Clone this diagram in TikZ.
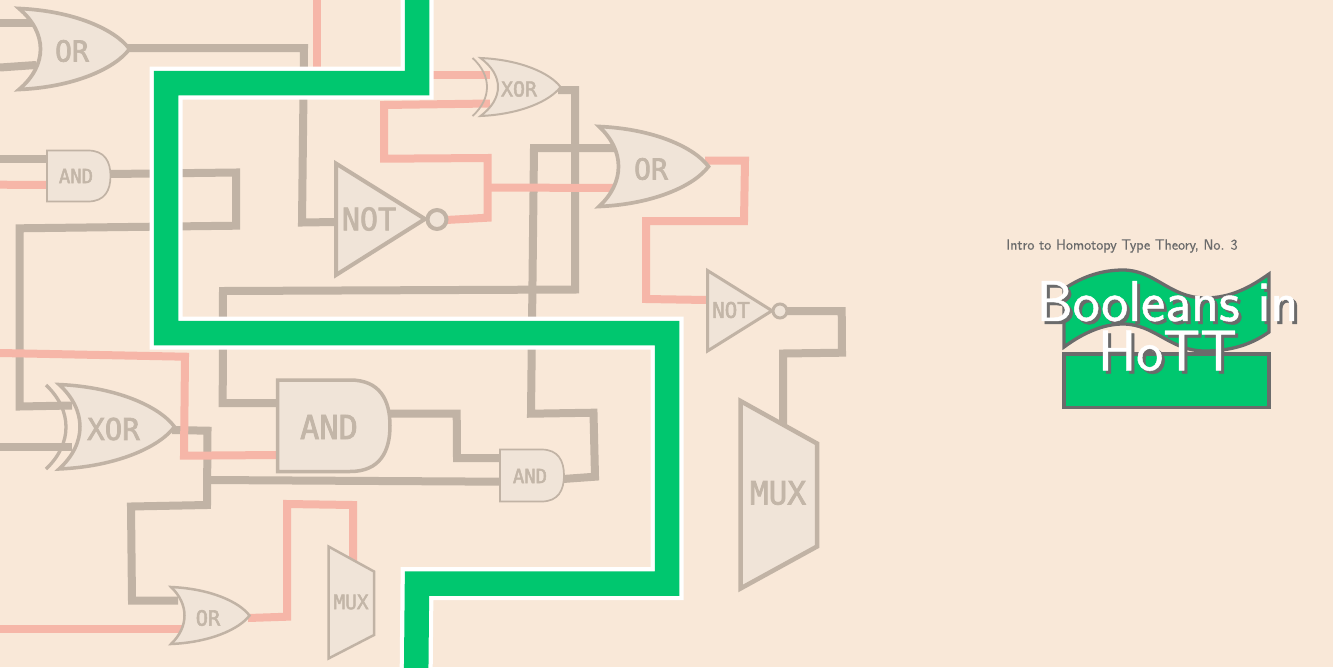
\documentclass[tikz,border=0pt]{standalone}
\usepackage{fontspec}
\newfontfamily\gatefont[FakeBold=2.5]{DejaVu Sans Mono}
\newfontfamily\titlefont[FakeBold=0.8]{Latin Modern Sans}
\newfontfamily\subfont[FakeBold=0.3]{Latin Modern Sans}
\definecolor{bgc}{HTML}{F9E8D8}
\definecolor{wiregray}{HTML}{C1B3A5}
\definecolor{wirepink}{HTML}{F6B6A8}
\definecolor{gatefill}{HTML}{F0E4D8}
\definecolor{gatetext}{HTML}{C3B6A8}
\definecolor{hottgreen}{HTML}{00C76F}
\definecolor{logogray}{HTML}{6B6B6B}
\tikzset{
  graywire/.style={draw=wiregray,line width=8pt},
  pinkwire/.style={draw=wirepink,line width=8pt},
  gatebody/.style={draw=wiregray,fill=gatefill},
  gatelabel/.style={text=gatetext,inner sep=0pt,font=\gatefont},
  logotitle/.style={inner sep=0pt,font=\titlefont\fontsize{57.5}{57.5}\selectfont,align=center},
}
\newcommand{\orbody}[6]{%
  \pgfmathsetmacro{\gw}{#4-#1}\pgfmathsetmacro{\gh}{#3-#2}\pgfmathsetmacro{\gm}{(#2+#3)/2}%
  \pgfmathsetmacro{\gb}{#1+(#5-#1)/0.75}%
  \draw[gatebody,line width=#6pt]
    (#1,#2) .. controls ({#1+.5*\gw},{#2+.03*\gh}) and ({#1+.87*\gw},{#2+.26*\gh}) .. (#4,\gm)
    .. controls ({#1+.87*\gw},{#3-.26*\gh}) and ({#1+.5*\gw},{#3-.03*\gh}) .. (#1,#3)
    .. controls (\gb,{#3-.3*\gh}) and (\gb,{#2+.3*\gh}) .. cycle;}
\newcommand{\xorarc}[5]{%
  \pgfmathsetmacro{\gh}{#3-#2}\pgfmathsetmacro{\gb}{#1+(#4-#1)/0.75}%
  \draw[draw=wiregray,line width=#5pt]
    (#1,#2) .. controls (\gb,{#2+.3*\gh}) and (\gb,{#3-.3*\gh}) .. (#1,#3);}
\newcommand{\andbody}[6]{%
  \pgfmathsetmacro{\gh}{#3-#2}\pgfmathsetmacro{\gm}{(#2+#3)/2}%
  \draw[gatebody,line width=#6pt]
    (#1,#2) -- (#4,#2) .. controls ({#4+.75*(#5-#4)},#2) and (#5,{#2+.22*\gh}) .. (#5,\gm)
    .. controls (#5,{#3-.22*\gh}) and ({#4+.75*(#5-#4)},#3) .. (#4,#3) -- (#1,#3) -- cycle;}
\newcommand{\glabel}[5]{\node[gatelabel,font=\gatefont\fontsize{#4}{#4}\selectfont] (#1) at (#2,#3) {\scalebox{.97}[1]{#5}};}
\begin{document}
\begin{tikzpicture}[x=1pt,y=-1pt]
\useasboundingbox (0,0) rectangle (1333,667);
\fill[bgc] (0,0) rectangle (1333,667);
% pins
\coordinate (orAin1) at (36,23);\coordinate (orAin2) at (36,65);\coordinate (orAout) at (128,48);
\coordinate (andAin1) at (47,159);\coordinate (andAin2) at (47,185);\coordinate (andAout) at (110,174);
\coordinate (notAin) at (336,222);\coordinate (notAout) at (446,220);
\coordinate (xorAin1) at (490,75);\coordinate (xorAin2) at (490,103.5);\coordinate (xorAout) at (558,90);
\coordinate (orBin1) at (614,148);\coordinate (orBin2) at (614,188);\coordinate (orBout) at (705,160.5);
\coordinate (notBin) at (707,300);\coordinate (notBout) at (786,311);
\coordinate (muxBin) at (783,425);
\coordinate (xorBin1) at (72,405.5);\coordinate (xorBin2) at (72,447);\coordinate (xorBout) at (172,430);
\coordinate (andBin1) at (278,403);\coordinate (andBin2) at (278,455);\coordinate (andBout) at (388,413.7);
\coordinate (andCin1) at (501,458);\coordinate (andCin2) at (501,481.7);\coordinate (andCout) at (563,479);
\coordinate (orCin1) at (178,600.7);\coordinate (orCin2) at (182,629);\coordinate (orCout) at (248,618);
\coordinate (muxAin) at (353,562);
\coordinate (edgeA) at (0,23);\coordinate (edgeB) at (0,67.5);\coordinate (edgeC) at (0,159);\coordinate (edgeD) at (0,184.7);
\coordinate (edgeE) at (0,447);\coordinate (edgeF) at (0,353);\coordinate (edgeG) at (0,629);\coordinate (edgeH) at (316.5,0);
% gray wires
\draw[graywire] (edgeA) -- (orAin1);
\draw[graywire] (edgeB) -- (orAin2);
\draw[graywire] (edgeC) -- (andAin1);
\draw[graywire] (edgeE) -- (xorBin2);
\draw[graywire] (orAout) -- (304,48) -- (302,222.5) -- (notAin);
\draw[graywire] (andAout) -- (236,172.5) -- (236,225.7) -- (19.5,228.3) -- (19.5,406.5) -- (xorBin1);
\draw[graywire] (xorAout) -- (575,90) -- (575,289.5) -- (223,291) -- (222.7,403) -- (andBin1);
\draw[graywire] (orBin1) -- (534,148) -- (531,413.7) -- (593.5,412.7) -- (595,476.7) -- (andCout);
\draw[graywire] (notBout) -- (841.7,311) -- (842,352.7) -- (783,353.5) -- (muxBin);
\draw[graywire] (xorBout) -- (207.5,430.7) -- (207,505) -- (131,506.5) -- (132,600.7) -- (orCin1);
\draw[graywire] (207,480) -- (andCin2);
\draw[graywire] (andBout) -- (456.7,413.7) -- (457,458) -- (andCin1);
% pink wires
\draw[pinkwire] (edgeH) -- (316.5,75) -- (xorAin1);
\draw[pinkwire] (xorAin2) -- (384,105) -- (384,158.7) -- (487.5,158) -- (487.5,217.7) -- (notAout);
\draw[pinkwire] (487.5,187.5) -- (orBin2);
\draw[pinkwire] (orBout) -- (745,160.5) -- (744,221) -- (646,221) -- (646,299) -- (notBin);
\draw[pinkwire] (edgeD) -- (andAin2);
\draw[pinkwire] (edgeF) -- (185,356.7) -- (184,455.7) -- (andBin2);
\draw[pinkwire] (edgeG) -- (orCin2);
\draw[pinkwire] (orCout) -- (287,616.7) -- (287,504) -- (353,505) -- (muxAin);
% gates
\orbody{19}{8.5}{89.5}{129.5}{40.5}{3.7}
\glabel{orA}{72}{51}{29}{OR}
\andbody{47}{150.5}{201.5}{88}{110.5}{1.7}
\glabel{andA}{76}{176}{19.5}{AND}
\draw[gatebody,line width=4pt] (336,163.5) -- (425,219) -- (336,275) -- cycle;
\draw[gatebody,line width=4pt] (437,219.5) circle[radius=9.5];
\glabel{notA}{369}{219}{31}{NOT}
\xorarc{472.5}{58}{116}{487}{1.8}
\orbody{480.5}{58}{116}{560.5}{498}{2}
\glabel{xorA}{519}{89}{20.5}{XOR}
\orbody{599}{126.5}{206.5}{708.5}{618.5}{3.7}
\glabel{orB}{651}{169}{29}{OR}
\draw[gatebody,line width=3pt] (707.5,270.5) -- (772,310.7) -- (707.5,351) -- cycle;
\draw[gatebody,line width=3pt] (780,311) circle[radius=7];
\glabel{notB}{731}{310}{21.5}{NOT}
\draw[gatebody,line width=4.5pt] (740.5,401) -- (817,443.5) -- (817,546.5) -- (740.5,588.5) -- cycle;
\glabel{muxB}{778}{493}{32}{MUX}
\xorarc{46}{385}{469}{66}{3.3}
\orbody{59}{384.5}{469}{174.5}{80}{3.5}
\glabel{xorB}{113.5}{429}{30}{XOR}
\andbody{277.5}{380}{471.5}{350}{390}{3.5}
\glabel{andB}{329}{427}{33}{AND}
\andbody{500}{449.5}{501.5}{541.5}{564}{1.7}
\glabel{andC}{530}{476}{19.5}{AND}
\orbody{171}{587}{644}{249.5}{184.5}{2.5}
\glabel{orC}{208}{618}{21}{OR}
\draw[gatebody,line width=2.5pt] (328.5,546.5) -- (374,571.5) -- (374,635) -- (328.5,658.5) -- cycle;
\glabel{muxA}{351}{602}{20}{MUX}
% thick green line
\draw[white,line width=33pt] (417,-20) -- (417,83) -- (166,83) -- (166,333) -- (667,333) -- (667,583.5) -- (417,583.5) -- (416,690);
\draw[hottgreen,line width=24.5pt] (417,-20) -- (417,83) -- (166,83) -- (166,333) -- (667,333) -- (667,583.5) -- (417,583.5) -- (416,690);
% logo
\draw[fill=hottgreen,draw=logogray,line width=3.3pt]
 (1064,289) .. controls (1083,276) and (1103,270) .. (1123,270)
 .. controls (1155,270) and (1170,298) .. (1205,298)
 .. controls (1232,298) and (1252,286) .. (1269,274)
 -- (1269,332)
 .. controls (1252,344) and (1232,351) .. (1205,351)
 .. controls (1170,351) and (1155,324) .. (1123,324)
 .. controls (1103,324) and (1083,333) .. (1064,347) -- cycle;
\draw[fill=hottgreen,draw=logogray,line width=3.3pt] (1064,354) rectangle (1269,407.5);
\node[logotitle,text=logogray] (titleshadow) at (1170.5,329) {Booleans in\\[-8pt]HoTT};
\node[logotitle,text=white] (title) at (1167.5,326) {Booleans in\\[-8pt]HoTT};
\node[inner sep=0pt,text=logogray,font=\subfont\fontsize{15}{15}\selectfont] (subtitle) at (1122,246) {Intro to Homotopy Type Theory, No. 3};
\end{tikzpicture}
\end{document}
